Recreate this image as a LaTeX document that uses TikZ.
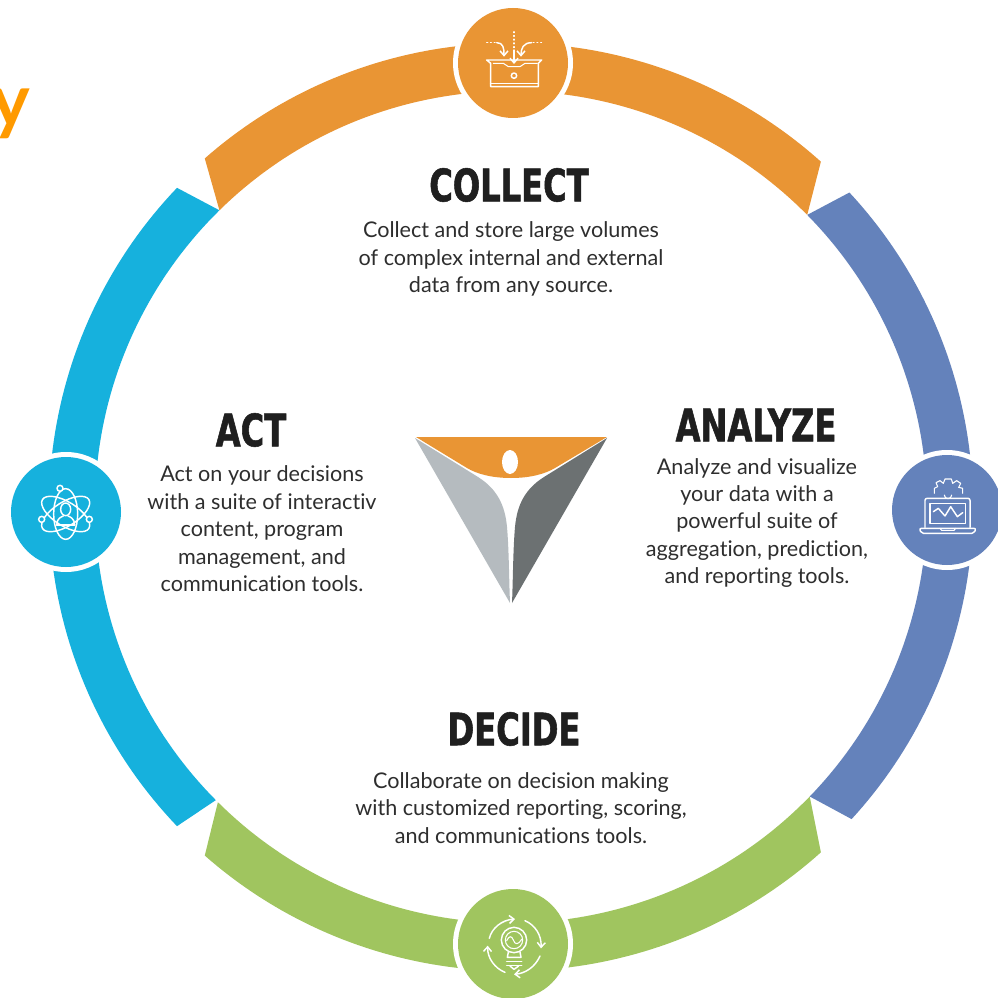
\documentclass[tikz,border=0pt]{standalone}
\usepackage{fontspec}
\setmainfont[Ligatures=CommonOff]{Lato}
\newfontfamily\headfont[FakeStretch=0.72,FakeBold=1.2]{DejaVu Sans}
\usetikzlibrary{arrows.meta,shapes.geometric}
\definecolor{corange}{HTML}{E99534}
\definecolor{cblue}{HTML}{6482BB}
\definecolor{cgreen}{HTML}{A0C55F}
\definecolor{ccyan}{HTML}{16B1DD}
\definecolor{clogoL}{HTML}{B5BBBF}
\definecolor{clogoD}{HTML}{6C7172}
\definecolor{ctxt}{HTML}{2E2E2E}
\definecolor{ctitle}{HTML}{FF9A00}
\tikzset{
  head/.style={font=\headfont\bfseries\fontsize{33.5}{34}\selectfont,text=black!88,inner sep=0pt},
  body/.style={font=\fontsize{16.2}{20.6}\selectfont,text=ctxt,align=center,inner sep=0pt},
  disc/.style={circle,minimum size=82.5pt,inner sep=0pt},
  halo/.style={circle,fill=white,minimum size=90pt,inner sep=0pt},
  icon/.style={draw=white,line width=1.1pt,line cap=round,line join=round},
  iconfine/.style={draw=white,line width=0.8pt,line cap=round,line join=round},
  tip/.style={-{Straight Barb[length=3.5pt,width=6pt]}}
}
\newcommand{\ringseg}[7]{% colour, outer from, outer to, inner from, inner to, Ro, Ri
  \fill[#1] plot[domain=#2:#3,samples=80] ({511+#6*cos(\x)},{507-#6*sin(\x)})
    -- plot[domain=#4:#5,samples=80] ({511+#7*cos(\x)},{507-#7*sin(\x)}) -- cycle;}
\begin{document}
\begin{tikzpicture}[x=0.75pt,y=-0.75pt]
\useasboundingbox (0,0) rectangle (997,998);
\fill[white] (0,0) rectangle (997,998);
% ring segments
\ringseg{corange}{131.3}{48.1}{44.6}{134.5}{464}{416}
\ringseg{cblue}{42.9}{-42.5}{-44.1}{44.6}{462}{416}
\ringseg{cgreen}{-48.1}{-131.3}{-134.8}{-44.1}{464}{416}
\ringseg{ccyan}{136.3}{223.7}{224.8}{134.5}{462}{416}
% discs
\node[halo] (htop) at (513,63) {};
\node[halo] (hright) at (947,510) {};
\node[halo] (hbottom) at (513,944) {};
\node[halo] (hleft) at (66,512) {};
\node[disc,fill=corange] (dtop) at (513,63) {};
\node[disc,fill=cblue] (dright) at (947,510) {};
\node[disc,fill=cgreen] (dbottom) at (513,944) {};
\node[disc,fill=ccyan] (dleft) at (66,512) {};
% collect icon
\begin{scope}[shift={(440,0)},x=0.25pt,y=-0.25pt]
  \draw[icon] (140,180)--(305,180)--(295,190)--(295,260)--(152,260)--(152,190)--cycle;
  \draw[icon] (152,250)--(295,250);
  \draw[iconfine] (160,190)--(190,190)--(205,200)--(240,200)--(255,190)--(292,190);
  \draw[icon] (222,227) circle (8);
  \draw[iconfine,dotted] (222,95)--(222,150);
  \draw[icon,tip] (222,150)--(222,192);
  \draw[iconfine,dotted] (140,128)--(170,128);
  \draw[icon,tip] (170,128) .. controls (190,128) and (192,145) .. (192,170);
  \draw[iconfine,dotted] (305,128)--(275,128);
  \draw[icon,tip] (275,128) .. controls (250,128) and (243,145) .. (243,170);
\end{scope}
% analyze icon
\begin{scope}[shift={(880,440)},x=0.25pt,y=-0.25pt]
  \draw[icon,rounded corners=1.5pt] (135,262)--(135,175)--(270,175)--(270,262);
  \draw[iconfine] (150,190) rectangle (257,250);
  \draw[icon,rounded corners=1.5pt] (118,265)--(288,265)--(282,280)--(124,280)--cycle;
  \draw[iconfine] (180,265)--(185,271)--(222,271)--(227,265);
  \draw[icon] (160,215)--(175,205)--(195,228)--(212,200)--(232,230)--(248,218);
  \draw[iconfine] (163,160)--(163,145)--(173,140)--(168,128)--(180,122)--(190,130)--(195,117)--(214,117)--(218,130)--(230,122)--(242,130)--(236,142)--(248,145)--(248,160);
  \draw[iconfine] (193,165) arc[start angle=180,end angle=0,radius=11];
\end{scope}
% decide icon
\begin{scope}[shift={(440,880)},x=0.25pt,y=-0.25pt]
  \draw[icon] (222,180) circle (38);
  \draw[iconfine] (222,180) circle (26);
  \draw[iconfine] (200,182) .. controls (208,165) and (215,168) .. (220,180) .. controls (225,195) and (235,195) .. (245,178);
  \draw[icon] (205,216)--(202,232)--(243,232)--(240,216);
  \draw[icon] (200,244)--(245,244);
  \draw[icon] (200,256)--(245,256);
  \draw[icon] (210,258)--(222,268)--(236,258);
  \draw[icon,tip] (148,175) .. controls (155,145) and (185,120) .. (225,117);
  \draw[icon,tip] (255,122) .. controls (285,135) and (305,165) .. (303,205);
  \draw[icon,tip] (300,228) .. controls (285,262) and (255,280) .. (222,283);
  \draw[icon,tip] (195,277) .. controls (165,265) and (142,235) .. (143,197);
\end{scope}
% act icon
\begin{scope}[shift={(0,440)},x=0.25pt,y=-0.25pt]
  \draw[icon] (197,222) ellipse [x radius=36,y radius=76];
  \draw[icon,rotate around={58:(197,222)}] (197,222) ellipse [x radius=36,y radius=82];
  \draw[icon,rotate around={-58:(197,222)}] (197,222) ellipse [x radius=36,y radius=82];
  \draw[icon,fill=ccyan] (180,145) circle (9);
  \draw[icon,fill=ccyan] (125,238) circle (9);
  \draw[icon,fill=ccyan] (268,238) circle (9);
  \draw[icon,fill=ccyan] (197,208) ellipse [x radius=15,y radius=19];
  \draw[icon] (170,255) .. controls (170,235) and (185,230) .. (190,228);
  \draw[icon] (224,255) .. controls (224,235) and (209,230) .. (204,228);
  \draw[icon] (170,255)--(224,255);
\end{scope}
% logo
\fill[corange] (416,437)--(607,437)--(555,468) .. controls (545,474) and (530,478) .. (511,478) .. controls (492,478) and (477,474) .. (467,468)--cycle;
\node[ellipse,fill=white,minimum width=12pt,minimum height=18pt,inner sep=0pt] (logohead) at (510,462) {};
\fill[clogoL] (415,438)--(478,477) .. controls (497,489) and (505,505) .. (507,527) .. controls (509,550) and (509,580) .. (510,603)--cycle;
\fill[clogoD] (607,438)--(544,477) .. controls (525,489) and (517,505) .. (515,527) .. controls (513,550) and (513,580) .. (512,603)--cycle;
% orange fragment top left
\node[font=\bfseries\fontsize{55}{55}\selectfont,text=ctitle,inner sep=0pt,anchor=base east] (ytitle) at (30,127) {y};
% labels
\node[head] (collect) at (509,185) {COLLECT};
\node[body] (collecttxt) at (511,259) {Collect and store large volumes\\of complex internal and external\\data from any source.};
\node[head] (act) at (251,430) {ACT};
\node[body] (acttxt) at (262,529) {Act on your decisions\\with a suite of interactiv\\content, program\\management, and\\communication tools.};
\node[head] (analyze) at (756,425) {ANALYZE};
\node[body] (analyzetxt) at (757,523) {Analyze and visualize\\your data with a\\powerful suite of\\aggregation, prediction,\\and reporting tools.};
\node[head] (decide) at (514,729) {DECIDE};
\node[body] (decidetxt) at (521,808) {Collaborate on decision making\\with customized reporting, scoring,\\and communications tools.};
\end{tikzpicture}
\end{document}
